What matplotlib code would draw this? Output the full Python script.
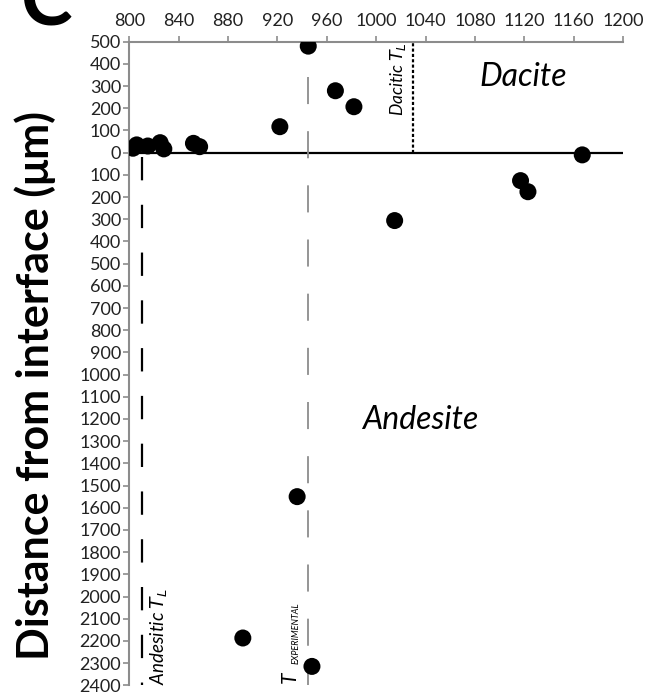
import matplotlib
matplotlib.use("Agg")
from matplotlib import pyplot as plt
from matplotlib.ticker import FuncFormatter

plt.rcParams["font.family"] = ["Lato", "DejaVu Sans"]

# temperature (deg C) vs distance from interface (um, negative = andesite side)
temperature = [803, 806, 815, 825, 828, 852, 857, 922, 945, 967, 982,
               1167, 1117, 1123, 1015, 936, 892, 948]
distance = [20, 35, 30, 45, 17, 42, 27, 117, 480, 279, 207,
            -10, -126, -176, -306, -1550, -2187, -2315]

x_ticks = list(range(800, 1201, 40))
y_ticks = list(range(-2400, 501, 100))

andesitic_tl = 810
dacitic_tl = 1030
t_experimental = 945

fig = plt.figure(figsize=(6.48, 6.95), dpi=100)
ax = fig.add_axes([0.1995, 0.014, 0.7619, 0.926])

ax.set_xlim(800, 1200)
ax.set_ylim(-2400, 500)

# reference lines
ax.axhline(0, color="black", lw=1.6, zorder=2)
ax.plot([dacitic_tl, dacitic_tl], [0, 500], color="black", lw=1.6,
        linestyle=(0, (1.4, 1.0)), zorder=2)
ax.plot([andesitic_tl, andesitic_tl], [-20, -2400], color="black", lw=1.6,
        linestyle=(0, (10.5, 11)), zorder=2)
ax.plot([t_experimental, t_experimental], [340, -2400], color="#8c8c8c", lw=1.3,
        linestyle=(0, (15, 15)), zorder=2)

ax.scatter(temperature, distance, s=150, color="black", zorder=3,
           edgecolors="none")

# axes styling: x axis on top, y axis on left, gray spines
for side in ("right", "bottom"):
    ax.spines[side].set_visible(False)
for side in ("top", "left"):
    ax.spines[side].set_color("#8c8c8c")
    ax.spines[side].set_linewidth(1.5)
ax.xaxis.set_ticks_position("top")
ax.xaxis.set_label_position("top")
ax.set_xticks(x_ticks)
ax.set_yticks(y_ticks)
ax.yaxis.set_major_formatter(FuncFormatter(lambda v, p: f"{abs(int(v))}"))
ax.tick_params(axis="both", direction="out", length=4, width=1.2,
               color="#8c8c8c", labelsize=13, labelcolor="#222222", pad=2)
ax.tick_params(axis="x", pad=5)

# region and line labels
ax.text(1119, 341, "Dacite", fontsize=23, style="italic", ha="center", va="center")
ax.text(1036, -1205, "Andesite", fontsize=23, style="italic",
        ha="center", va="center")
ax.text(1018, 332, r"Dacitic $T_L$", fontsize=12.5, style="italic",
        rotation=90, ha="center", va="center")
ax.text(824, -2180, r"Andesitic $T_L$", fontsize=13.5, style="italic",
        rotation=90, ha="center", va="center")
ax.text(930, -2390, "T", fontsize=15, style="italic", rotation=90,
        ha="center", va="bottom")
ax.text(935, -2305, "EXPERIMENTAL", fontsize=6.5, style="italic", rotation=90,
        ha="center", va="bottom")

fig.text(0.054, 0.445, "Distance from interface (\u03bcm)", fontsize=31,
         fontweight="bold", rotation=90, ha="center", va="center")
fig.text(0.072, 1 - 25 / 695, "C", fontsize=56, fontweight="bold",
         ha="center", va="baseline")

fig.savefig("out.png", dpi=100)
